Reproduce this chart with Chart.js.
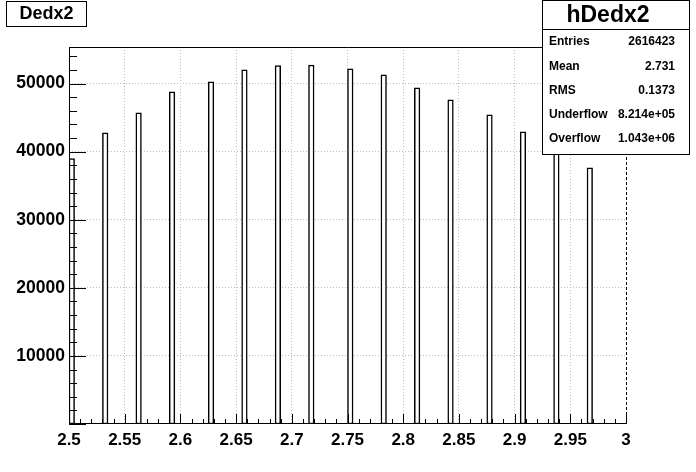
<!DOCTYPE html>
<html><head><meta charset="utf-8">
<script src="https://cdn.jsdelivr.net/npm/chart.js@4/dist/chart.umd.min.js"></script>
<style>html,body{margin:0;padding:0;background:#fff}#wrap{width:696px;height:472px}</style>
</head><body><div id="wrap"><canvas id="c" width="696" height="472"></canvas></div>
<script>
// ---- data ----
const binLowEdges = [2.500,2.530,2.560,2.590,2.625,2.655,2.685,2.715,2.750,2.780,2.810,2.840,2.875,2.905,2.935,2.965];
const binCounts   = [39000,42770,45700,48780,50250,52000,52640,52730,52150,51270,49370,47610,45410,42920,40300,37640];
const binWidth = 0.005;
const xTickValues = [2.5,2.55,2.6,2.65,2.7,2.75,2.8,2.85,2.9,2.95,3];
const xTickLabels = ['2.5','2.55','2.6','2.65','2.7','2.75','2.8','2.85','2.9','2.95','3'];
const yTickValues = [10000,20000,30000,40000,50000];
const yTickLabels = ['10000','20000','30000','40000','50000'];
const xMin = 2.5, xMax = 3, yMin = 0, yMax = 55370;
const histTitle = 'Dedx2';
const statsTitle = 'hDedx2';
const statNames  = ['Entries','Mean','RMS','Underflow','Overflow'];
const statValues = ['2616423','2.731','0.1373','8.214e+05','1.043e+06'];

const FONT = '"Liberation Sans", Arial, Helvetica, sans-serif';

const framePlugin = {
  id: 'frame',
  afterDatasetsDraw(chart) {
    const c = chart.ctx, a = chart.chartArea, xs = chart.scales.x, ys = chart.scales.y;
    c.save();
    c.strokeStyle = '#000'; c.lineWidth = 1;
    c.beginPath(); c.moveTo(a.left + 0.5, a.top); c.lineTo(a.left + 0.5, a.bottom); c.stroke();
    c.beginPath(); c.moveTo(a.left, a.bottom - 0.5); c.lineTo(a.right, a.bottom - 0.5); c.stroke();
    c.beginPath(); c.moveTo(a.left, a.top + 0.5); c.lineTo(a.right, a.top + 0.5); c.stroke();
    for (let v = 0; v <= yMax; v += 2000) {
      const len = (v % 10000 === 0) ? 17 : 8;
      const p = Math.round(ys.getPixelForValue(v)) + 0.5;
      c.beginPath(); c.moveTo(a.left, p); c.lineTo(a.left + len, p); c.stroke();
    }
    for (let i = 0; i <= 50; i++) {
      const len = (i % 5 === 0) ? 10 : 5;
      const p = Math.round(xs.getPixelForValue(xMin + i * 0.01)) + 0.5;
      c.beginPath(); c.moveTo(p, a.bottom); c.lineTo(p, a.bottom - len); c.stroke();
    }
    c.setLineDash([3, 2]);
    c.beginPath(); c.moveTo(a.right + 0.5, a.top); c.lineTo(a.right + 0.5, a.bottom); c.stroke();
    c.setLineDash([]);
    c.restore();
  },
  afterDraw(chart) {
    const c = chart.ctx;
    c.save();
    c.strokeStyle = '#000'; c.lineWidth = 1; c.fillStyle = '#fff';
    c.fillRect(6, 1, 80, 25); c.strokeRect(6.5, 1.5, 80, 25);
    c.fillStyle = '#000';
    c.font = 'bold 18px ' + FONT; c.textAlign = 'center'; c.textBaseline = 'middle';
    c.fillText(histTitle, 46.5, 14.5);
    c.fillStyle = '#fff';
    c.fillRect(542, 0, 148, 154); c.strokeRect(542.5, 0.5, 147, 154);
    c.beginPath(); c.moveTo(542, 29.5); c.lineTo(690, 29.5); c.stroke();
    c.fillStyle = '#000';
    c.font = 'bold 23px ' + FONT; c.textAlign = 'center';
    c.fillText(statsTitle, 608, 16);
    c.font = 'bold 12px ' + FONT;
    statNames.forEach((n, i) => {
      const yy = 42 + i * 24.2;
      c.textAlign = 'left'; c.fillText(n, 549, yy);
      c.textAlign = 'right'; c.fillText(statValues[i], 675, yy);
    });
    c.restore();
  }
};

new Chart(document.getElementById('c'), {
  type: 'bar',
  data: {
    datasets: [{
      data: binLowEdges.map((e, i) => ({ x: e + binWidth / 2, y: binCounts[i] })),
      backgroundColor: '#fff',
      borderColor: '#000',
      borderWidth: 1.5,
      borderSkipped: false,
      barPercentage: 1,
      categoryPercentage: 1,
      barThickness: (ctx) => {
        const s = ctx.chart.scales.x;
        return Math.abs(s.getPixelForValue(xMin + binWidth) - s.getPixelForValue(xMin));
      }
    }]
  },
  options: {
    responsive: false,
    animation: false,
    devicePixelRatio: 1,
    layout: { padding: { left: 0, right: 70, top: 47, bottom: 0 } },
    plugins: { legend: { display: false }, tooltip: { enabled: false }, title: { display: false } },
    scales: {
      x: {
        type: 'linear', min: xMin, max: xMax, offset: false,
        afterBuildTicks: (s) => { s.ticks = xTickValues.map(v => ({ value: v })); },
        afterFit: (s) => { s.height = 48; },
        ticks: {
          autoSkip: false, maxRotation: 0, padding: 6, color: '#000',
          font: { family: FONT, size: 17, weight: 'bold' },
          callback: (v, i) => xTickLabels[i]
        },
        grid: {
          offset: false,
          drawTicks: false,
          color: (ctx) => (ctx.tick && ctx.tick.value > xMin + 1e-9 && ctx.tick.value < xMax - 1e-9) ? '#bdbdbd' : 'rgba(0,0,0,0)'
        },
        border: { display: false, dash: [1, 2] }
      },
      y: {
        type: 'linear', min: yMin, max: yMax,
        afterBuildTicks: (s) => { s.ticks = yTickValues.map(v => ({ value: v })); },
        afterFit: (s) => { s.width = 69; },
        ticks: {
          padding: 4, color: '#000',
          font: { family: FONT, size: 17.5, weight: 'bold' },
          callback: (v, i) => yTickLabels[i]
        },
        grid: { drawTicks: false, color: '#bdbdbd' },
        border: { display: false, dash: [1, 2] }
      }
    }
  },
  plugins: [framePlugin]
});
</script></body></html>
